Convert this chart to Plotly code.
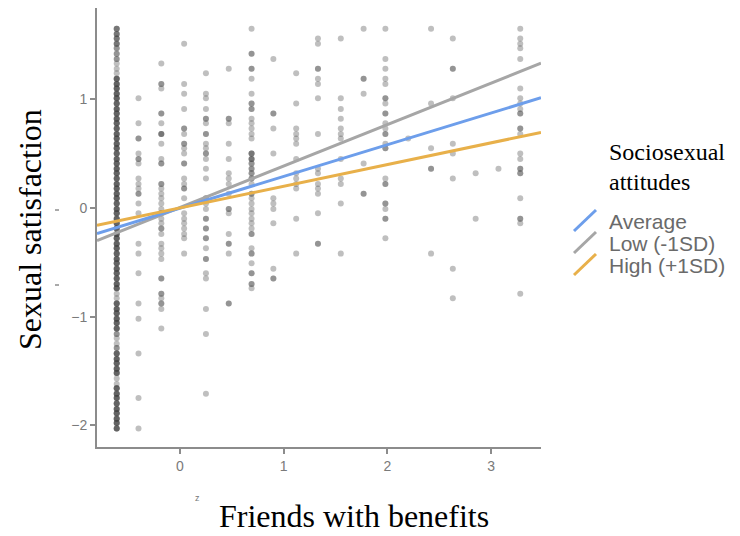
import numpy as np
import plotly.graph_objects as go

# ---------------- data ----------------
col_x = [-0.61, -0.40, -0.18, 0.04, 0.25, 0.47, 0.69, 0.90, 1.12, 1.33,
         1.55, 1.77, 1.98, 2.20, 2.42, 2.63, 2.85, 3.07, 3.28]

# first column is dense: y levels and how many points sit on each
c1_levels = [1.65, 1.60, 1.56, 1.51, 1.47, 1.42, 1.37, 1.33, 1.28, 1.24,
             1.19, 1.14, 1.10, 1.05, 1.01, 0.96, 0.91, 0.87, 0.82, 0.78,
             0.73, 0.68, 0.64, 0.59, 0.55, 0.50, 0.45, 0.41, 0.36, 0.32,
             0.27, 0.22, 0.18, 0.13, 0.09, 0.04, -0.01, -0.05, -0.10, -0.14,
             -0.19, -0.24, -0.28, -0.33, -0.37, -0.42, -0.47, -0.51, -0.56, -0.60,
             -0.65, -0.70, -0.74, -0.79, -0.83, -0.88, -0.93, -0.97, -1.02, -1.06,
             -1.11, -1.16, -1.20, -1.25, -1.29, -1.34, -1.39, -1.43, -1.48, -1.52,
             -1.57, -1.62, -1.66, -1.71, -1.75, -1.80, -1.85, -1.89, -1.94, -1.98,
             -2.03]
c1_counts = [3, 3, 3, 3, 2, 2, 2, 1, 1, 1,
             4, 4, 4, 4, 4, 4, 4, 4, 4, 4,
             4, 4, 4, 4, 4, 4, 4, 4, 4, 4,
             4, 4, 4, 4, 4, 4, 4, 4, 4, 4,
             4, 4, 4, 4, 4, 4, 4, 4, 4, 4,
             4, 4, 4, 1, 1, 4, 4, 4, 4, 4,
             4, 2, 1, 1, 2, 4, 4, 4, 4, 4,
             1, 1, 4, 4, 4, 4, 4, 4, 4, 4,
             4]

c2 = [1.01, 0.78, 0.64, 0.64, 0.50, 0.45, 0.45, 0.41, 0.27, 0.22, 0.18, 0.13, 0.13,
      0.04, -0.05, -0.33, -0.42, -0.60, -0.88, -1.02, -1.34, -1.75, -2.03]
c3 = [1.33, 1.14, 1.14, 1.10, 0.87, 0.87, 0.78, 0.68, 0.68, 0.68, 0.59, 0.45, 0.41,
      0.41, 0.22, 0.22, 0.18, 0.13, 0.09, 0.04, -0.01, -0.05, -0.05, -0.10, -0.14,
      -0.19, -0.19, -0.24, -0.33, -0.37, -0.42, -0.47, -0.65, -0.65, -0.79, -0.79,
      -0.83, -0.88, -0.88, -0.93, -1.11]
c4 = [1.51, 1.14, 1.05, 0.91, 0.73, 0.73, 0.68, 0.59, 0.59, 0.55, 0.50, 0.41, 0.41,
      0.27, 0.22, 0.18, 0.18, 0.09, -0.05, -0.10, -0.14, -0.19, -0.24, -0.28, -0.42]
c5 = [1.24, 1.05, 1.01, 0.91, 0.82, 0.82, 0.78, 0.68, 0.68, 0.59, 0.55, 0.50, 0.50,
      0.45, 0.36, 0.27, 0.09, 0.09, 0.04, -0.01, -0.10, -0.10, -0.19, -0.19, -0.28,
      -0.28, -0.37, -0.47, -0.47, -0.60, -0.65, -0.93, -1.16, -1.71]
c6 = [1.28, 0.82, 0.82, 0.78, 0.59, 0.45, 0.32, 0.27, 0.22, 0.13, -0.01, -0.01,
      -0.05, -0.24, -0.33, -0.33, -0.42, -0.88, -0.88]
c7 = [1.65, 1.42, 1.42, 1.28, 1.28, 1.19, 1.05, 0.96, 0.96, 0.91, 0.91, 0.82, 0.78,
      0.73, 0.68, 0.64, 0.50, 0.50, 0.50, 0.45, 0.45, 0.45, 0.41, 0.41, 0.36, 0.36,
      0.32, 0.32, 0.27, 0.27, 0.22, 0.13, 0.13, 0.09, 0.04, -0.01, -0.05, -0.10,
      -0.14, -0.19, -0.24, -0.24, -0.37, -0.42, -0.42, -0.51, -0.60, -0.60, -0.70,
      -0.70, -0.74]
c8 = [1.37, 0.87, 0.87, 0.73, 0.50, 0.09, 0.04, -0.01, -0.14, -0.56, -0.65, -0.65]
c9 = [1.24, 0.96, 0.73, 0.68, 0.64, 0.59, 0.45, 0.32, 0.27, 0.22, 0.18, -0.10, -0.42]
c10 = [1.56, 1.51, 1.28, 1.28, 1.19, 1.14, 1.01, 0.68, 0.36, 0.32, 0.22, 0.18, 0.13,
       -0.05, -0.33, -0.33]
c11 = [1.56, 1.01, 0.91, 0.82, 0.73, 0.68, 0.64, 0.45, 0.27, 0.22, 0.04, -0.42]
c12 = [1.65, 1.19, 1.19, 1.05, 0.41, 0.13, 0.13]
c13 = [1.65, 1.37, 1.28, 1.19, 1.14, 1.01, 1.01, 0.96, 0.87, 0.87, 0.78, 0.73, 0.68,
       0.68, 0.59, 0.55, 0.55, 0.27, 0.22, 0.22, 0.04, 0.04, -0.01, -0.10, -0.10, -0.28]
c14 = [0.64]
c15 = [1.65, 0.96, 0.55, 0.36, 0.36, -0.42]
c16 = [1.56, 1.28, 1.28, 1.01, 0.59, 0.50, 0.27, -0.56, -0.83]
c17 = [0.32, -0.10]
c18 = [0.36]
c19 = [1.65, 1.56, 1.51, 1.47, 1.37, 1.10, 1.01, 0.96, 0.91, 0.87, 0.87, 0.73, 0.73,
       0.68, 0.50, 0.45, 0.36, 0.36, 0.32, 0.32, 0.09, -0.10, -0.10, -0.14, -0.79]

# simple slopes (line end points at the x-range edges)
line_x = [-0.80, 3.48]
avg_y = [-0.235, 1.014]
low_y = [-0.300, 1.332]
high_y = [-0.160, 0.695]

series_names = ["Average", "Low (-1SD)", "High (+1SD)"]
series_colors = ["#6d9eeb", "#a6a6a6", "#e8b04a"]

x_ticks = [0, 1, 2, 3]
y_ticks = [-2, -1, 0, 1]

# ---------------- build the point cloud ----------------
cols = [list(np.repeat(c1_levels, c1_counts)), c2, c3, c4, c5, c6, c7, c8, c9, c10,
        c11, c12, c13, c14, c15, c16, c17, c18, c19]
px_, py_ = [], []
for xv, ys in zip(col_x, cols):
    px_ += [xv] * len(ys)
    py_ += list(ys)

fig = go.Figure()
fig.add_trace(go.Scatter(x=px_, y=py_, mode="markers", showlegend=False,
                         marker=dict(size=6, color="rgb(60,60,60)", opacity=0.33,
                                     line=dict(width=0)),
                         hoverinfo="skip"))

lines = {"Average": avg_y, "Low (-1SD)": low_y, "High (+1SD)": high_y}
for name in ["Low (-1SD)", "Average", "High (+1SD)"]:
    col = series_colors[series_names.index(name)]
    fig.add_trace(go.Scatter(x=line_x, y=lines[name], mode="lines", name=name,
                             showlegend=False, line=dict(color=col, width=3)))

# ---------------- layout ----------------
# the page body adds an 8px offset; figure is sized so the screenshot matches
OFF = 8
W, H = 732, 528
L, T = 97 - OFF, 8 - OFF
pw, ph = 444, 439
R, B = W - L - pw, H - T - ph


def pxx(p):
    return (p - OFF - L) / pw


def pxy(p):
    return 1 - (p - OFF - T) / ph


axis_col = "#8c8c8c"
tick_font = dict(family="Liberation Sans, Arial", size=14, color="#7a7a7a")

fig.update_layout(
    width=W, height=H,
    margin=dict(l=L, r=R, t=T, b=B),
    plot_bgcolor="white", paper_bgcolor="white",
    xaxis=dict(range=[-0.80, 3.48], tickvals=x_ticks, showgrid=False, zeroline=False,
               showline=True, linecolor=axis_col, linewidth=2, ticks="outside",
               ticklen=5, tickwidth=2, tickcolor=axis_col, tickfont=tick_font),
    yaxis=dict(range=[-2.2, 1.84], tickvals=y_ticks, showgrid=False, zeroline=False,
               showline=True, linecolor=axis_col, linewidth=2, ticks="outside",
               ticklen=5, tickwidth=2, tickcolor=axis_col, tickfont=tick_font),
)

serif = "Liberation Serif, Times New Roman, serif"
ann = [
    dict(text="Friends with benefits", x=pxx(354), y=pxy(516), xref="paper", yref="paper",
         showarrow=False, font=dict(family=serif, size=32, color="black"),
         xanchor="center", yanchor="middle"),
    dict(text="Sexual satisfaction", x=pxx(30), y=pxy(230), xref="paper", yref="paper",
         showarrow=False, textangle=-90, font=dict(family=serif, size=32, color="black"),
         xanchor="center", yanchor="middle"),
    dict(text="Sociosexual", x=pxx(607), y=pxy(152), xref="paper", yref="paper",
         showarrow=False, font=dict(family=serif, size=24, color="black"),
         xanchor="left", yanchor="middle"),
    dict(text="attitudes", x=pxx(607), y=pxy(182), xref="paper", yref="paper",
         showarrow=False, font=dict(family=serif, size=24, color="black"),
         xanchor="left", yanchor="middle"),
    dict(text="z", x=pxx(197), y=pxy(498), xref="paper", yref="paper",
         showarrow=False, font=dict(family="Liberation Sans", size=9, color="#777"),
         xanchor="center", yanchor="middle"),
]
legend_y = [221, 243, 265]
shapes = []
for name, col, ly in zip(series_names, series_colors, legend_y):
    ann.append(dict(text=name, x=pxx(607), y=pxy(ly), xref="paper", yref="paper",
                    showarrow=False,
                    font=dict(family="Liberation Sans, Arial", size=21, color="#6a6a6a"),
                    xanchor="left", yanchor="middle"))
    shapes.append(dict(type="line", xref="paper", yref="paper",
                       x0=pxx(574), y0=pxy(ly + 10), x1=pxx(596), y1=pxy(ly - 11),
                       line=dict(color=col, width=3)))
for yy in [210, 285]:
    shapes.append(dict(type="line", xref="paper", yref="paper",
                       x0=pxx(55), y0=pxy(yy), x1=pxx(59), y1=pxy(yy),
                       line=dict(color="#555", width=1)))

fig.update_layout(annotations=ann, shapes=shapes)
fig.write_html("out.html")
